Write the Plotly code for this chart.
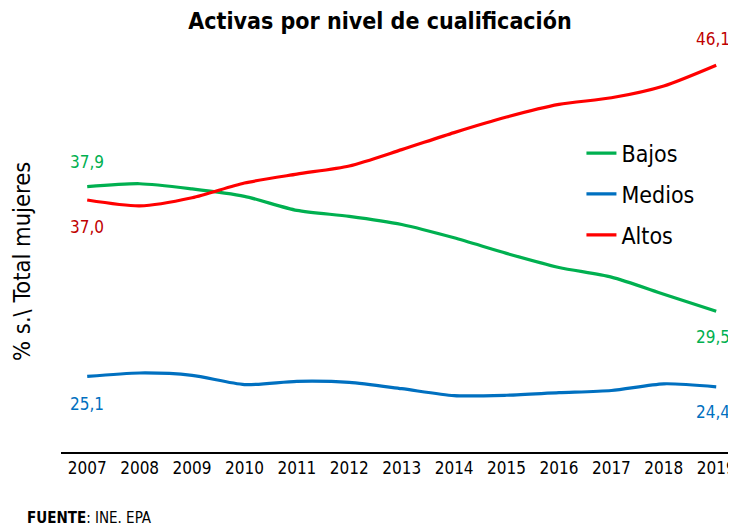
import plotly.graph_objects as go

years = list(range(2007, 2020))
bajos = [37.9, 38.1, 37.75, 37.25, 36.3, 35.9, 35.35, 34.45, 33.4, 32.45, 31.8, 30.65, 29.5]
medios = [25.1, 25.33, 25.17, 24.55, 24.77, 24.7, 24.27, 23.8, 23.83, 24.0, 24.15, 24.6, 24.4]
altos = [37.0, 36.6, 37.15, 38.15, 38.75, 39.3, 40.4, 41.55, 42.6, 43.45, 43.9, 44.7, 46.1]

series = [("Bajos", bajos, "#00B050", "#00B050"),
          ("Medios", medios, "#0070C0", "#0070C0"),
          ("Altos", altos, "#FF0000", "#C00000")]

FONT = "DejaVu Sans Condensed, DejaVu Sans, sans-serif"

fig = go.Figure()
for name, vals, col, lab in series:
    fig.add_trace(go.Scatter(x=years, y=vals, mode="lines", name=name,
                             legendgroup=name,
                             line=dict(color=col, width=3.2, shape="spline", smoothing=0.7)))

def fmt(v):
    return f"{v:.1f}".replace(".", ",")

# (start shift, end shift) in pixels
offsets = {"Bajos": (25, -26), "Medios": (-28, -25), "Altos": (-27, 26)}
for name, vals, col, lab in series:
    so, eo = offsets[name]
    fig.add_annotation(x=years[0], y=vals[0], text=fmt(vals[0]), showarrow=False,
                       yshift=so, font=dict(color=lab, size=17, family=FONT))
    fig.add_annotation(x=years[-1], y=vals[-1], text=fmt(vals[-1]), showarrow=False,
                       yshift=eo, xshift=-3, font=dict(color=lab, size=17, family=FONT))

fig.add_annotation(xref="paper", yref="paper", x=-0.0527, y=-0.16, xanchor="left",
                   yanchor="middle", showarrow=False,
                   text="<b>FUENTE</b>: INE. EPA", font=dict(size=15, family=FONT, color="black"))

fig.add_annotation(xref="paper", yref="paper", x=-0.0571, y=0.458, xanchor="center",
                   yanchor="middle", showarrow=False, textangle=-90,
                   text="% s.\\ Total mujeres", font=dict(size=23.5, family=FONT, color="black"))

fig.update_layout(
    width=736, height=527,
    margin=dict(l=53, r=0, t=29.3, b=83.3),
    paper_bgcolor="white", plot_bgcolor="white",
    title=dict(text="<b>Activas por nivel de cualificación</b>", x=0.5054, xanchor="center",
               y=0.976, yanchor="middle",
               font=dict(size=23, family=FONT, color="black")),
    font=dict(family=FONT, color="black"),
    legend=dict(x=0.762, y=0.772, xanchor="left", yanchor="top",
                font=dict(size=23, family=FONT, color="black"),
                tracegroupgap=8, bgcolor="rgba(0,0,0,0)"),
    xaxis=dict(range=[2006.5, 2019.53], tickmode="array", tickvals=years,
               ticktext=[str(y) for y in years], showgrid=False, zeroline=False,
               showline=True, linecolor="black", linewidth=1.5, ticks="",
               automargin=False,
               tickfont=dict(size=17, family=FONT, color="black")),
    yaxis=dict(range=[20, 48], showgrid=False, zeroline=False, showticklabels=False,
               showline=False, automargin=False),
)

fig.write_html("out.html")
